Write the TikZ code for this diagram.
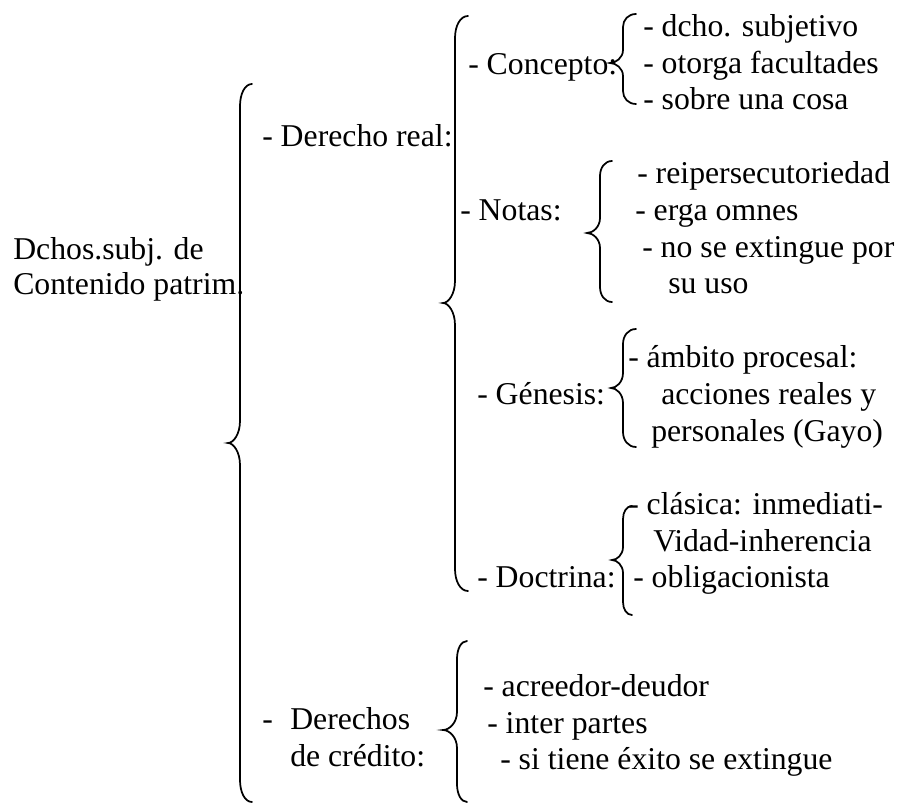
\documentclass[tikz,border=0pt]{standalone}
\usepackage{fontspec}
\setmainfont{Liberation Serif}
\newcommand\mybrace[7]{% xv, xtip, xend, ytop, ytip, ybot, r
  \draw[bracestyle] (#3,#4) .. controls ({#1+0.4*(#3-#1)},#4) and (#1,{#4+0.45*#7}) .. (#1,{#4+#7})
    -- (#1,{#5-#7}) .. controls (#1,{#5-0.4*#7}) and ({#2+0.45*(#1-#2)},#5) .. (#2,#5)
    .. controls ({#2+0.45*(#1-#2)},#5) and (#1,{#5+0.4*#7}) .. (#1,{#5+#7})
    -- (#1,{#6-#7}) .. controls (#1,{#6-0.45*#7}) and ({#1+0.4*(#3-#1)},#6) .. (#3,#6);}
\begin{document}
\begin{tikzpicture}[x=0.75pt,y=-0.75pt,
  bracestyle/.style={line width=1.3pt,black,line cap=round},
  txt/.style={anchor=base west,inner sep=0pt,font=\fontsize{23.8pt}{28pt}\selectfont}]
\useasboundingbox (0,0) rectangle (901,805);
% braces
\mybrace{240}{228}{252}{84}{443}{802}{22}
\mybrace{455}{443}{468}{16}{303}{591}{22}
\mybrace{623}{610}{636}{14}{63}{104}{13}
\mybrace{600}{587}{612}{161}{233}{302}{15}
\mybrace{623}{611}{636}{329}{388}{447}{15}
\mybrace{623}{612}{632}{506}{560}{615}{13}
\mybrace{457}{443}{467}{641}{730}{802}{18}
% texts
\node[txt] (r1) at (13,260) {Dchos.subj. de};
\node[txt] (r2) at (13,295) {Contenido patrim.};
\node[txt] (dr) at (262,147) {- Derecho real:};
\node[txt] (con) at (468,75) {- Concepto:};
\node[txt] (c1) at (643,37) {- dcho. subjetivo};
\node[txt] (c2) at (643,74) {- otorga facultades};
\node[txt] (c3) at (643,110) {- sobre una cosa};
\node[txt] (not) at (460,221) {- Notas:};
\node[txt] (n1) at (637,184) {- reipersecutoriedad};
\node[txt] (n2) at (635,221) {- erga omnes};
\node[txt] (n3) at (642,258) {- no se extingue por};
\node[txt] (n4) at (668,294) {su uso};
\node[txt] (gen) at (477,405) {- Génesis:};
\node[txt] (g1) at (628,368) {- ámbito procesal:};
\node[txt] (g2) at (661,405) {acciones reales y};
\node[txt] (g3) at (651,442) {personales (Gayo)};
\node[txt] (doc) at (477,588) {- Doctrina:};
\node[txt] (d1) at (628,515) {- clásica: inmediati-};
\node[txt] (d2) at (653,552) {Vidad-inherencia};
\node[txt] (d3) at (633,588) {- obligacionista};
\node[txt] (dc1) at (262,730) {-\hspace{0.55em}Derechos};
\node[txt] (dc2) at (290,767) {de crédito:};
\node[txt] (k1) at (483,697) {- acreedor-deudor};
\node[txt] (k2) at (487,734) {- inter partes};
\node[txt] (k3) at (500,770) {- si tiene éxito se extingue};
\end{tikzpicture}
\end{document}
